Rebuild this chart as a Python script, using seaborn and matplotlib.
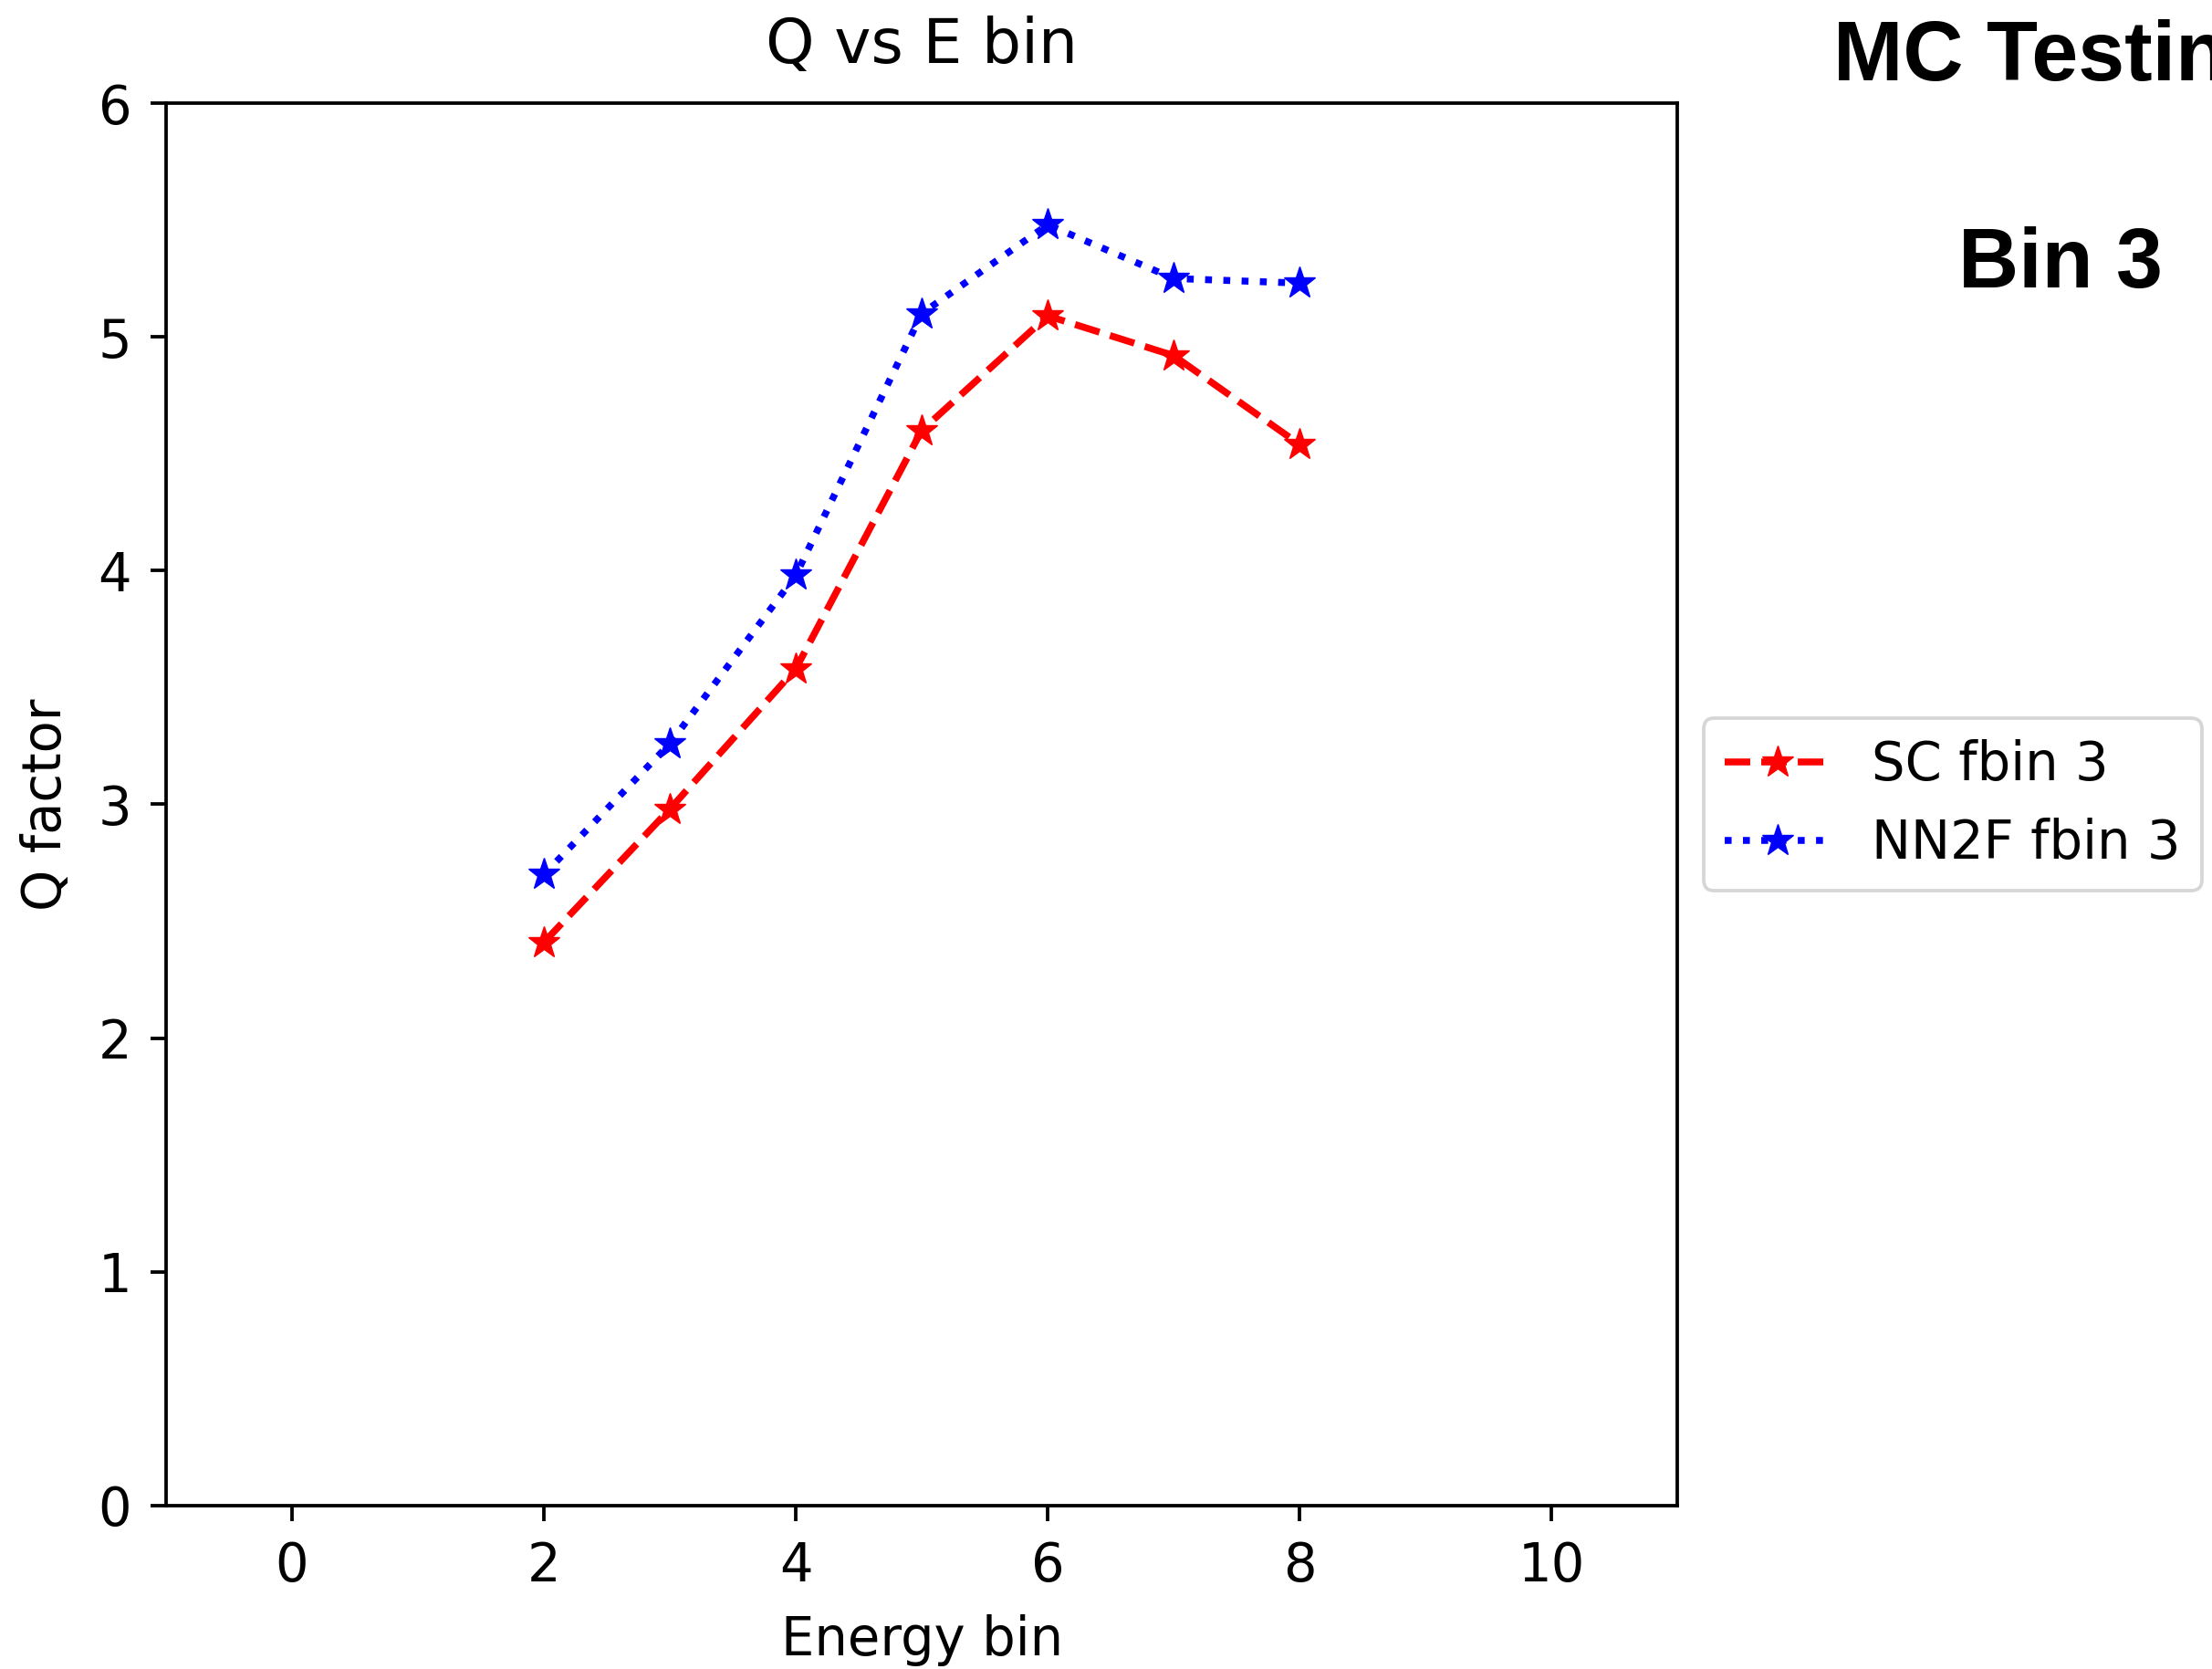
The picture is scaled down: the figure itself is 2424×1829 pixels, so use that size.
import matplotlib
matplotlib.use("Agg")
import matplotlib.pyplot as plt
import seaborn as sns

energy_bin = [2, 3, 4, 5, 6, 7, 8]
sc_q = [2.41, 2.98, 3.58, 4.60, 5.09, 4.92, 4.54]
nn2f_q = [2.70, 3.26, 3.98, 5.10, 5.48, 5.25, 5.23]
xticks = [0, 2, 4, 6, 8, 10]
yticks = [0, 1, 2, 3, 4, 5, 6]

S = 3.4
F = 10 * S * 1.22
plt.rcParams['font.family'] = ['DejaVu Sans']
fig = plt.figure(figsize=(24.24, 18.29), dpi=100)
ax = fig.add_axes([0.0751, 0.0979, 0.6832, 0.8403])

for vals, col, ls, lab in [(sc_q, 'red', '--', 'SC fbin 3'),
                           (nn2f_q, 'blue', ':', 'NN2F fbin 3')]:
    sns.lineplot(x=energy_bin, y=vals, ax=ax, color=col, linestyle=ls, marker='*',
                 markersize=26, linewidth=1.6 * S, markeredgewidth=1.0,
                 markeredgecolor=col, markerfacecolor=col, label=lab)

ax.set_xlim(-1, 11)
ax.set_ylim(0, 6)
ax.set_xticks(xticks)
ax.set_yticks(yticks)
ax.tick_params(labelsize=F, length=3.5 * S, width=0.8 * S, pad=4.5 * S)
for sp in ax.spines.values():
    sp.set_linewidth(0.8 * S)
ax.set_title('Q vs E bin', fontsize=12 * S * 1.2, pad=6 * S + 11)
ax.set_xlabel('Energy bin', fontsize=F, labelpad=4 * S + 4)
ax.set_ylabel('Q factor', fontsize=F, labelpad=4 * S + 7)

leg = ax.legend(loc='center left', bbox_to_anchor=(1.0, 0.5), fontsize=F,
                borderaxespad=0.5)
leg.get_frame().set_linewidth(0.8 * S)

fig.text(2009 / 2424, 1 - 88 / 1829, 'MC Testing', fontsize=66, fontweight='bold',
         family=['Liberation Sans'], ha='left', va='baseline')
fig.text(2146 / 2424, 1 - 315 / 1829, 'Bin 3', fontsize=66, fontweight='bold',
         family=['Liberation Sans'], ha='left', va='baseline')

fig.savefig('out.png', dpi=100)
